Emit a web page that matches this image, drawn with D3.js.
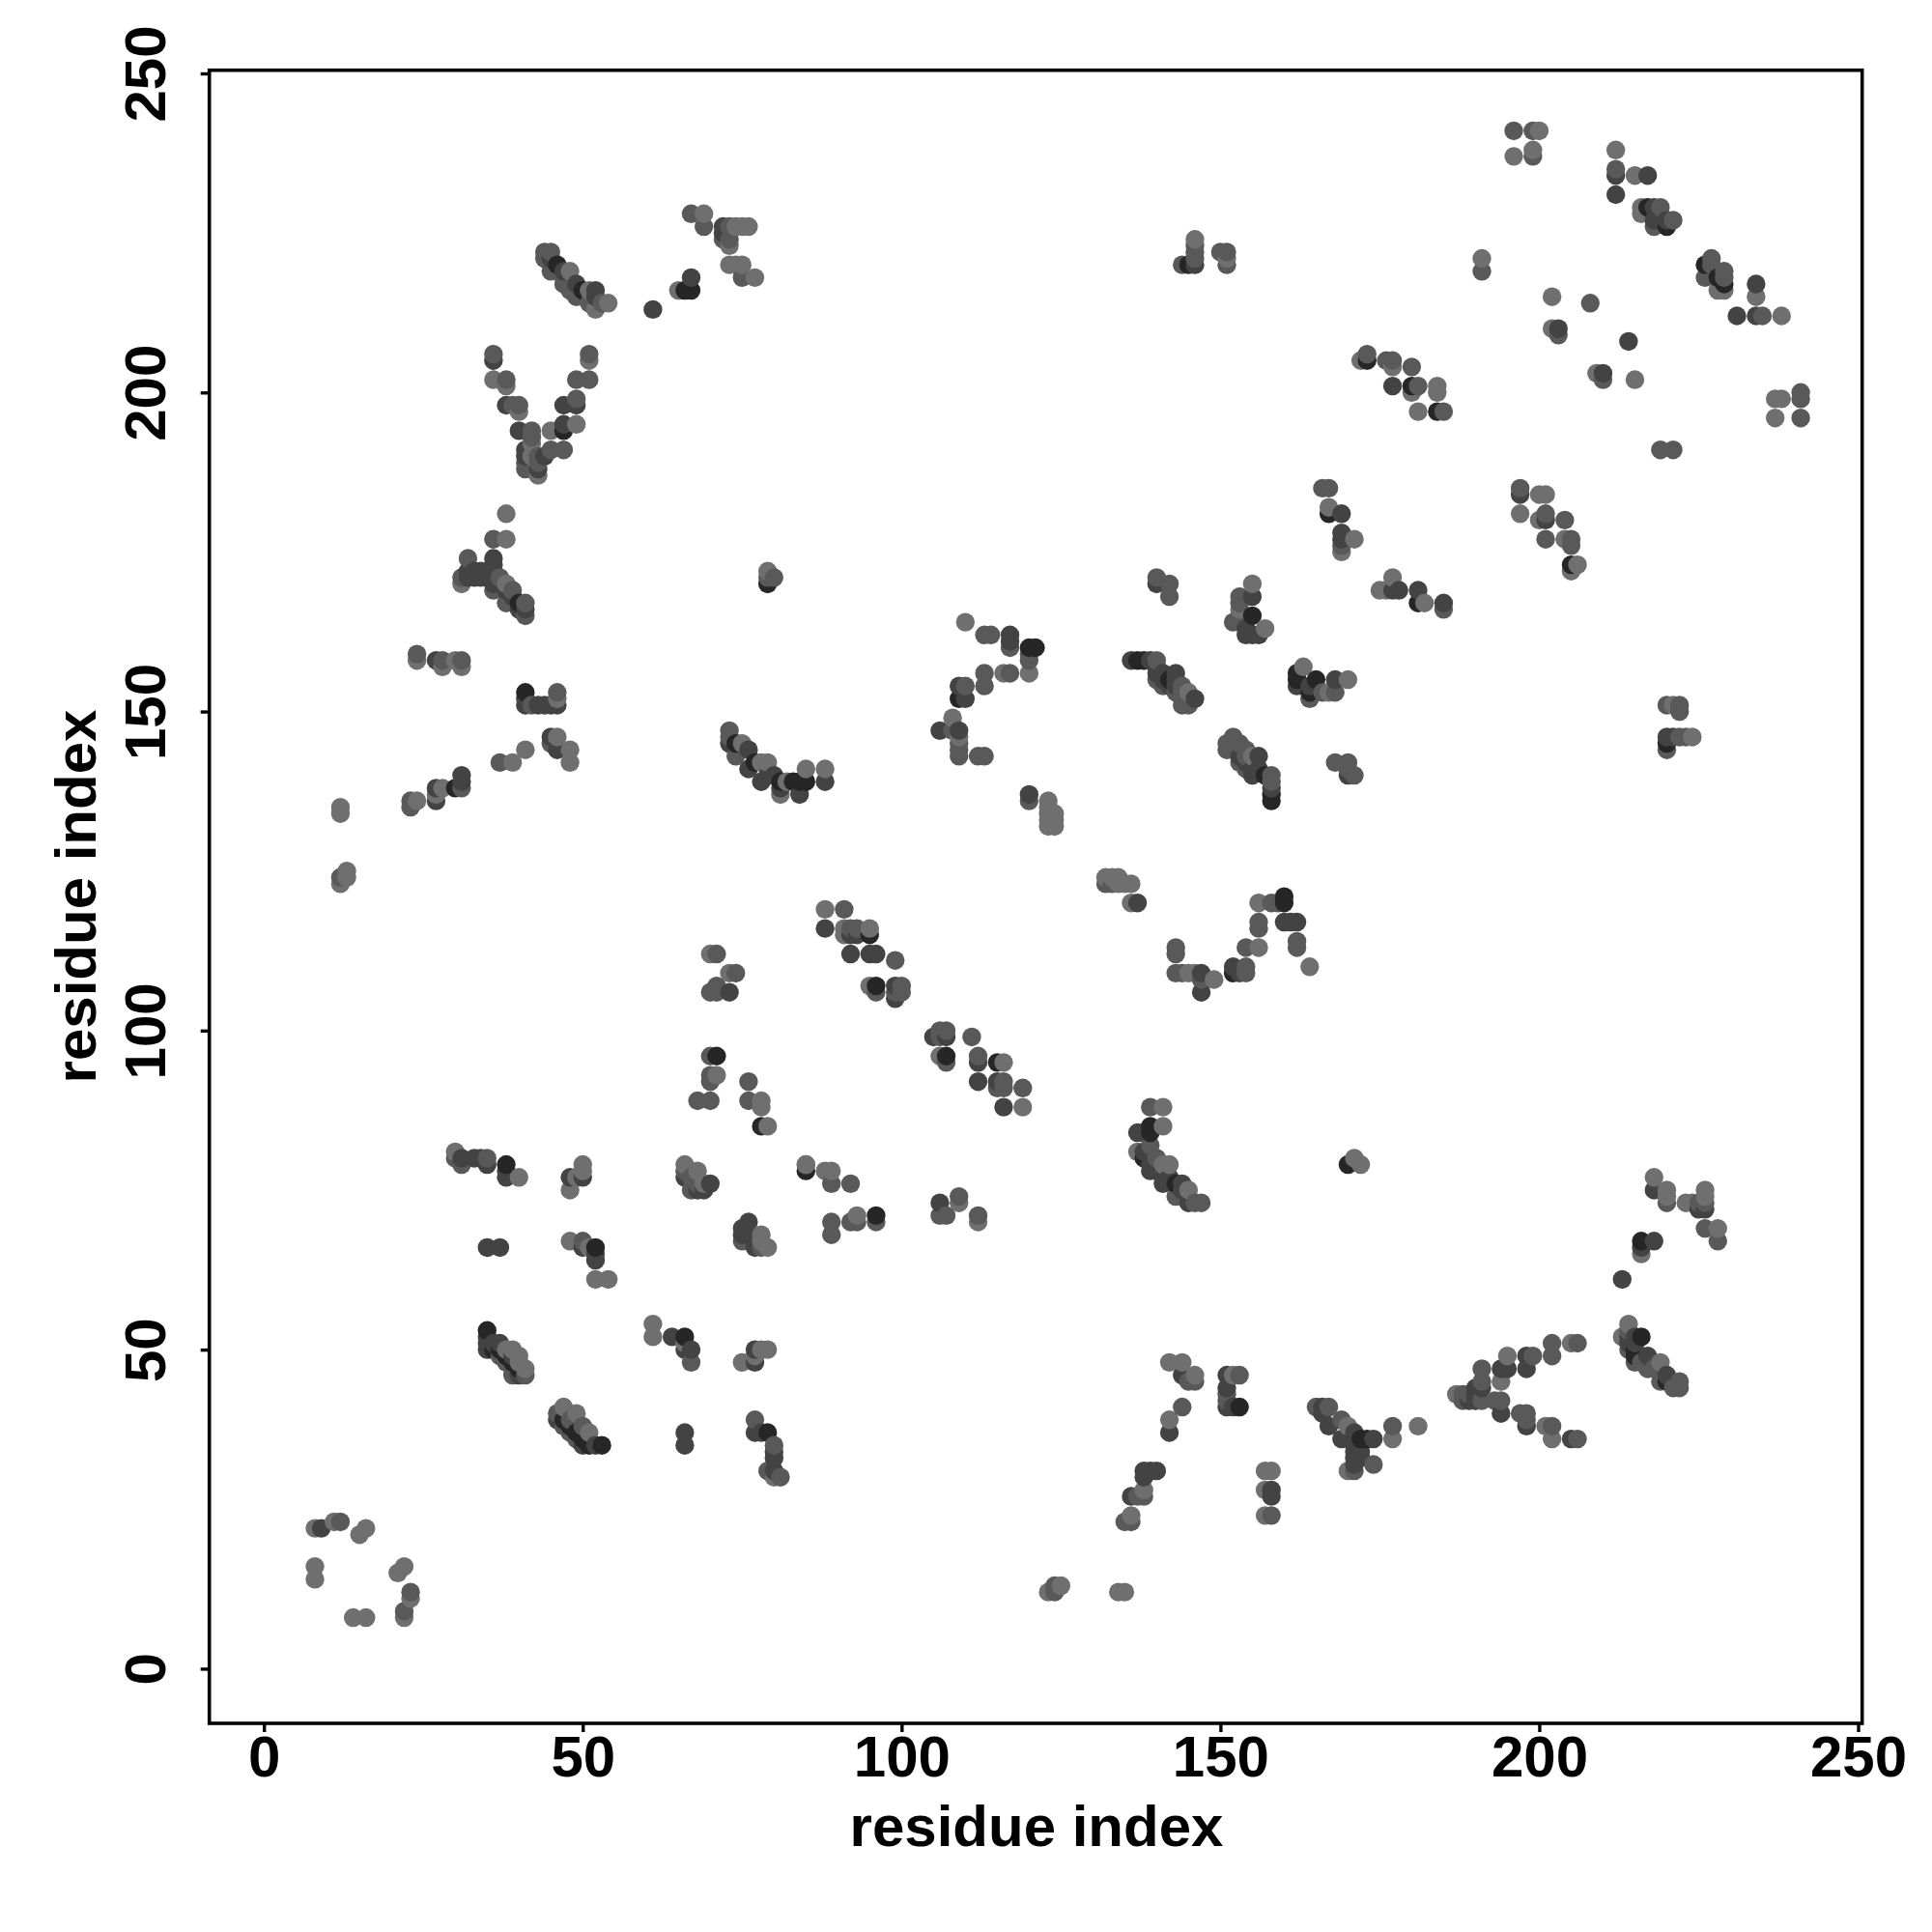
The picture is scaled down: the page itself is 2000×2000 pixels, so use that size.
<!DOCTYPE html>
<html><head><meta charset="utf-8"><script src="https://cdn.jsdelivr.net/npm/d3@7"></script>
<style>html,body{margin:0;background:#fff}svg{display:block}text{font-family:"Liberation Sans",Arial,sans-serif;font-weight:bold;fill:#000}</style>
</head><body><svg id="c" width="2000" height="2000"></svg>
<script>
// Each contact is [residue i, residue j, strength level 1-4]
const tickValues = [0, 50, 100, 150, 200, 250];
const xTitle = "residue index", yTitle = "residue index";
const bottomLeftRing = [[8,22,1],[9,22,3],[11,23,1],[12,23,2],[15,21,1],[16,22,1],[8,16,1],[8,14,1],[21,15,1],[22,16,1],[23,11,1],[23,12,2],[22,9,2],[22,8,1],[14,8,1],[16,8,1]];
const lowerLeftA = [[30,81,1],[30,80,2],[31,80,3],[31,79,2],[33,80,3],[34,80,3],[35,80,2],[35,79,3],[38,79,4],[38,78,3],[38,77,3],[40,77,1],[48,77,3],[48,75,1],[49,77,1],[50,79,1],[50,78,1],[50,77,3],[35,66,3],[37,66,3],[48,67,1],[50,67,2],[50,66,3],[51,66,1],[52,66,4],[52,65,3],[52,64,3],[52,61,1],[54,61,1]];
const lowerLeftHelixA = [[35,53,4],[35,52,3],[35,51,3],[35,50,3],[36,51,3],[36,50,4],[37,51,3],[37,50,4],[37,49,2],[38,50,1],[38,49,4],[38,48,2],[39,50,1],[39,49,3],[39,48,4],[39,47,2],[39,46,2],[40,49,1],[40,48,1],[40,47,4],[40,46,3],[41,47,1],[41,46,2]];
const lowerLeftHelixB = [[47,41,1],[46,40,2],[46,39,3],[47,39,4],[47,38,2],[48,39,2],[48,38,4],[48,37,2],[49,40,1],[49,37,4],[49,36,2],[50,38,2],[50,36,4],[50,35,3],[51,37,1],[51,35,4],[52,35,3],[53,35,4]];
const lowerMidA = [[66,37,3],[66,35,3],[77,39,2],[77,37,3],[78,37,3],[79,37,4],[80,35,2],[80,34,3],[80,33,3],[79,31,2],[80,31,3],[80,30,1],[81,30,2],[61,54,1],[61,52,1],[64,52,3],[66,52,4],[66,51,1],[66,50,3],[67,50,3],[67,48,2],[75,48,1],[77,50,3],[77,49,1],[77,48,3],[78,50,1],[79,50,1]];
const midColumn = [[66,79,1],[66,78,2],[66,77,3],[67,77,2],[67,75,2],[68,78,1],[68,76,2],[68,75,3],[69,76,1],[69,75,3],[70,76,3],[76,70,3],[75,69,3],[75,68,3],[75,67,2],[76,68,3],[77,67,3],[77,66,3],[78,68,1],[78,67,1],[78,66,2],[79,66,1],[85,79,1],[85,78,4],[68,89,2],[70,89,2],[70,92,2],[70,93,2],[71,93,1],[76,92,2],[76,89,2],[78,89,1],[78,88,1],[78,85,4],[79,85,1],[70,96,2],[71,96,4],[70,106,2],[71,107,2],[71,106,2],[73,106,3],[73,109,1],[74,109,2],[70,112,1],[71,112,2]];
const upperLeftA = [[67,228,2],[69,228,1],[69,226,2],[72,226,3],[73,226,2],[74,226,1],[75,226,1],[76,226,1],[72,225,3],[72,224,2],[73,224,2],[73,223,1],[73,220,1],[74,220,1],[75,220,1],[75,218,2],[77,218,1],[67,218,3],[67,216,4],[66,216,4],[65,216,1],[61,213,3]];
const upperLeftHelix = [[44,222,2],[45,222,2],[44,221,2],[45,221,3],[45,219,2],[46,220,4],[47,219,3],[47,218,2],[47,217,2],[48,219,1],[48,216,2],[49,217,3],[49,215,2],[50,216,4],[51,216,1],[51,214,2],[52,216,3],[52,215,3],[52,213,1],[53,214,2],[54,214,1]];
const vShape = [[36,206,2],[36,205,3],[36,202,1],[38,202,2],[38,201,1],[38,198,3],[39,198,2],[40,198,2],[40,197,1],[40,194,3],[42,194,2],[42,193,2],[42,192,1],[41,191,3],[41,190,3],[41,189,2],[41,188,2],[42,190,1],[43,190,2],[43,189,2],[43,188,3],[43,187,1],[44,190,3],[45,191,2],[47,191,2],[45,194,1],[47,195,3],[47,194,4],[49,195,1],[47,198,3],[49,199,2],[49,198,3],[49,202,2],[51,202,2],[51,206,2],[51,205,1]];
const leftHelixC = [[38,181,1],[36,177,2],[38,177,1],[32,174,2],[36,174,3],[36,173,3],[32,172,3],[33,172,3],[34,172,3],[36,172,3],[31,171,2],[31,170,1],[32,171,3],[33,171,3],[34,171,3],[35,171,3],[36,170,3],[37,171,2],[36,169,2],[38,170,1],[38,169,3],[39,169,2],[38,167,2],[39,168,3],[40,167,4],[40,166,3],[41,167,2],[41,166,3],[41,165,2],[79,172,1],[79,171,2],[79,170,4],[80,171,2]];
const leftMid = [[24,159,2],[24,158,1],[27,158,3],[28,158,2],[28,157,1],[30,158,1],[31,158,2],[31,157,1],[12,135,1],[12,134,1],[12,124,2],[12,123,1],[13,125,1],[13,124,1],[23,136,2],[23,135,2],[24,136,1],[27,138,3],[27,137,1],[27,136,3],[28,138,1],[30,138,4],[31,140,3],[31,139,3],[31,138,2],[37,142,2],[39,142,1],[41,144,1],[41,153,4],[41,152,3],[41,151,3],[42,151,2],[43,151,3],[44,151,3],[45,151,3],[46,151,3],[46,153,2],[46,152,1],[45,146,3],[46,146,1],[45,145,2],[46,144,3],[48,144,1],[48,142,1]];
const midHelixD = [[73,147,2],[73,146,2],[73,145,3],[74,145,4],[75,145,1],[74,143,2],[76,144,3],[76,141,3],[77,142,4],[78,142,1],[78,139,3],[79,142,1],[79,140,3],[80,140,3],[81,139,4],[81,138,3],[81,137,1],[82,139,1],[83,139,4],[84,139,4],[84,137,3],[85,141,1],[85,139,4],[88,141,1],[88,139,3]];
const centerDiagonal = [[88,119,1],[91,119,2],[88,116,3],[91,116,1],[92,116,2],[93,116,2],[91,115,1],[92,115,3],[93,115,3],[95,116,1],[95,115,4],[92,112,3],[95,112,3],[96,112,3],[99,111,2],[95,107,1],[96,107,4],[96,106,2],[99,107,3],[99,106,2],[99,105,3],[100,107,2],[100,106,2],[105,99,3],[106,100,2],[106,99,2],[107,100,2],[107,99,3],[111,99,2],[106,96,1],[107,96,4],[107,95,2],[112,96,2],[112,95,3],[115,95,4],[116,95,1],[112,92,3],[115,92,3],[115,91,2],[116,92,2],[116,91,2],[119,91,2],[116,88,3],[119,88,1]];
const lowerCenter = [[85,79,1],[88,78,1],[89,78,1],[89,76,2],[92,76,2],[89,70,2],[89,68,2],[92,70,2],[93,71,1],[93,70,2],[96,71,4],[96,70,2],[106,73,3],[106,71,2],[107,71,2],[109,74,2],[109,73,1],[112,71,2],[112,70,1]];
const centerRight = [[132,124,1],[133,124,1],[134,124,1],[132,123,2],[133,123,2],[134,123,1],[135,123,1],[136,123,1],[136,120,1],[137,120,3],[156,120,1],[158,120,2],[159,120,2],[160,121,4],[160,120,4],[156,117,2],[156,116,2],[160,117,3],[161,117,3],[162,117,3],[162,114,2],[162,113,2],[154,113,2],[156,113,1],[164,110,1],[152,110,3],[152,109,4],[153,109,3],[154,110,2],[154,109,2],[143,113,2],[143,112,2],[143,109,2],[144,109,2],[145,109,1],[146,109,1],[147,109,3],[147,108,2],[147,106,3],[149,108,1]];
const lowerRightHelix = [[139,88,2],[141,88,1],[139,85,4],[141,85,1],[137,84,3],[138,84,3],[139,84,4],[139,82,2],[137,81,1],[138,81,3],[138,80,4],[139,79,3],[139,78,3],[140,80,2],[140,78,3],[141,79,1],[141,76,3],[142,79,1],[142,77,3],[143,76,4],[143,74,2],[144,76,3],[144,75,3],[145,75,1],[145,73,3],[146,73,2],[147,73,2],[170,79,4],[171,80,1],[172,79,1]];
const lowerRightA = [[218,77,1],[218,75,3],[220,75,1],[220,74,1],[220,73,2],[223,73,1],[224,73,1],[225,73,2],[226,75,1],[226,74,1],[226,73,2],[226,72,3],[225,72,3],[226,69,2],[228,69,1],[228,67,2],[216,67,4],[218,67,3],[216,66,3],[216,65,1],[213,61,3]];
const lowerRightHelix2 = [[214,54,1],[214,53,2],[213,52,1],[214,52,3],[215,52,3],[216,52,4],[214,51,3],[215,51,3],[214,50,2],[215,50,4],[215,49,4],[217,49,3],[215,48,2],[216,48,2],[219,48,1],[217,47,2],[218,47,2],[220,46,3],[219,45,2],[220,45,4],[221,44,2],[222,45,2],[222,44,2]];
const arcRight = [[202,51,2],[202,49,2],[205,51,1],[206,51,2],[195,49,1],[198,49,3],[199,49,2],[198,47,3],[194,47,3],[195,47,3],[194,45,1],[191,47,2],[191,45,2],[191,44,3],[190,44,3],[190,43,3],[189,43,2],[188,43,2],[187,43,1],[188,42,2],[189,42,3],[190,42,3],[191,42,2],[193,42,2],[194,42,2],[194,40,3],[197,40,2],[198,40,2],[198,39,2],[198,38,3],[201,38,1],[202,38,2],[202,36,1],[205,36,3],[206,36,2]];
const lowerBlocks = [[142,48,1],[144,48,1],[144,46,3],[145,45,2],[146,46,1],[146,45,2],[144,41,2],[142,39,1],[142,37,3],[151,46,3],[152,46,1],[153,46,2],[151,44,3],[151,43,2],[151,42,2],[151,41,3],[152,41,3],[153,41,4],[165,41,2],[166,41,3],[167,41,2],[166,40,3],[167,38,3],[169,39,2],[170,38,1],[169,36,3],[171,37,3],[172,36,4],[173,36,4],[174,36,3],[171,35,3],[171,34,3],[172,34,3],[171,33,3],[172,33,3],[174,32,2],[171,32,3],[170,31,1],[171,31,2],[177,38,2],[177,36,1],[181,38,1]];
const lowerStems = [[138,31,3],[139,31,3],[140,31,3],[138,30,3],[138,28,1],[136,27,3],[137,27,2],[138,27,2],[136,24,1],[135,23,2],[136,23,2],[157,31,1],[158,31,1],[157,28,1],[158,28,3],[158,27,3],[157,24,1],[158,24,2],[123,12,1],[124,12,2],[124,13,2],[125,13,1],[134,12,1],[135,12,1]];
const middleUpperA = [[110,164,1],[113,162,2],[114,162,2],[117,162,3],[117,161,3],[117,160,2],[120,160,4],[121,160,4],[120,159,2],[120,158,2],[120,156,1],[113,156,2],[113,154,2],[116,156,1],[117,156,2],[109,154,3],[110,154,2],[109,152,4],[110,152,3],[108,149,1],[106,147,3],[108,147,2],[109,147,3],[109,146,1],[109,145,2],[109,144,2],[109,143,2],[112,143,2],[113,143,2],[120,137,3],[120,136,2],[123,136,1],[123,135,1],[123,134,1],[124,134,1],[123,133,1],[124,133,1],[123,132,1],[124,132,1]];
const middleHelixE = [[136,158,3],[137,158,4],[138,158,4],[139,158,3],[140,158,2],[140,157,3],[140,156,3],[140,155,2],[141,156,3],[141,155,3],[141,154,2],[142,155,4],[142,154,3],[143,156,3],[143,155,3],[143,154,3],[143,153,2],[144,154,2],[144,153,2],[144,151,2],[145,153,1],[145,152,2],[145,151,2],[146,152,3]];
const middleCluster = [[140,171,2],[140,170,3],[142,170,2],[142,168,2],[155,170,1],[155,168,3],[153,168,2],[153,167,2],[153,166,1],[153,165,2],[152,164,2],[155,165,4],[157,163,1],[154,163,3],[154,162,3],[155,162,3],[156,162,3]];
const middleHelixF = [[152,146,2],[151,145,2],[152,145,2],[153,145,2],[151,144,2],[152,144,2],[153,143,3],[154,144,2],[154,143,2],[155,143,1],[156,143,3],[153,142,2],[154,142,3],[154,141,2],[155,141,3],[156,141,3],[155,140,3],[157,140,4],[158,140,2],[158,139,2],[158,138,3],[158,137,4],[158,136,4]];
const rightCluster = [[162,156,4],[162,155,4],[162,154,3],[163,157,1],[165,155,4],[164,154,3],[164,153,4],[164,152,2],[166,153,2],[167,153,1],[168,155,3],[168,153,2],[170,155,1],[168,142,2],[170,142,2],[170,141,2],[170,140,3],[171,140,2],[166,185,2],[167,185,2],[167,182,1],[167,181,4],[169,181,3],[169,178,3],[169,177,3],[169,176,2],[169,175,1],[171,177,1],[177,171,1],[175,169,1],[176,169,1],[177,169,3],[178,169,3],[181,169,3],[181,167,4],[182,167,1],[185,167,3],[185,166,2]];
const upperRightA = [[197,185,2],[197,184,3],[200,184,1],[201,184,1],[197,181,1],[200,180,1],[201,181,2],[201,180,3],[204,180,2],[201,177,2],[204,177,1],[205,177,2],[205,176,2],[205,173,4],[206,173,1],[205,172,1],[220,151,2],[221,151,1],[222,151,2],[222,150,2],[220,146,3],[221,146,3],[222,146,2],[223,146,2],[224,146,1],[220,145,4],[220,144,2]];
const upperRightB = [[196,241,2],[199,241,2],[200,241,1],[196,237,1],[199,238,1],[199,237,2],[212,238,1],[212,235,2],[212,234,3],[215,234,1],[217,234,3],[212,231,3],[216,229,1],[217,229,4],[218,229,3],[219,229,2],[216,228,1],[218,227,3],[218,226,2],[220,227,3],[220,226,4],[221,227,2],[226,220,4],[227,221,2],[227,220,2],[226,218,2],[228,218,4],[229,219,2],[229,218,2],[229,217,4],[228,216,1],[229,216,1],[234,217,3],[234,215,1],[231,212,3],[234,212,3],[235,212,2],[238,212,1]];
const upperRightC = [[191,221,1],[191,219,2],[202,215,1],[208,214,2],[202,210,1],[203,210,3],[203,209,2],[214,208,3],[209,203,1],[210,203,3],[210,202,2],[215,202,1],[237,199,1],[238,199,1],[241,200,2],[241,199,2],[237,196,1],[241,196,2],[219,191,2],[221,191,2]];
const upperMiddle = [[144,220,2],[145,220,4],[146,220,3],[146,221,2],[146,222,2],[146,223,2],[146,224,1],[150,222,2],[151,222,2],[151,221,1],[151,220,2],[173,206,2],[172,205,1],[173,205,4],[176,205,2],[177,205,2],[177,204,1],[180,204,2],[177,201,3],[180,201,4],[181,201,2],[180,200,1],[184,201,1],[184,200,1],[181,197,1],[184,197,4],[185,197,2]];

const contacts = [bottomLeftRing, lowerLeftA, lowerLeftHelixA, lowerLeftHelixB, lowerMidA, midColumn, upperLeftA, upperLeftHelix, vShape, leftHelixC, leftMid, midHelixD, centerDiagonal, lowerCenter, centerRight, lowerRightHelix, lowerRightA, lowerRightHelix2, arcRight, lowerBlocks, lowerStems, middleUpperA, middleHelixE, middleCluster, middleHelixF, rightCluster, upperRightA, upperRightB, upperRightC, upperMiddle].flat()
  .sort((a, b) => d3.ascending(a[0], b[0]) || d3.ascending(a[1], b[1]));

const svg = d3.select("#c");
const x = d3.scaleLinear().domain([0, 250]).range([273.2, 1923.5]);
const y = d3.scaleLinear().domain([0, 250]).range([1727.4, 76]);
const grey = d3.scaleOrdinal().domain([1, 2, 3, 4]).range(["#6f6f6f", "#595959", "#434343", "#262626"]);

svg.append("g").selectAll("circle").data(contacts).join("circle")
  .attr("cx", d => x(d[0])).attr("cy", d => y(d[1])).attr("r", 9.7).attr("fill", d => grey(d[2]));

svg.append("rect").attr("x", 216.7).attr("y", 72.7).attr("width", 1711).attr("height", 1711.3)
  .attr("fill", "none").attr("stroke", "#000").attr("stroke-width", 3.6);

const ax = svg.append("g").attr("transform", "translate(0,1784)").call(d3.axisBottom(x).tickValues(tickValues).tickSize(9).tickPadding(3));
const ay = svg.append("g").attr("transform", "translate(216.7,0)").call(d3.axisLeft(y).tickValues(tickValues).tickSize(9));
[ax, ay].forEach(g => {
  g.select(".domain").remove();
  g.selectAll("line").attr("stroke", "#000").attr("stroke-width", 3.4);
  g.selectAll("text").attr("font-size", 60).attr("font-family", '"Liberation Sans"').attr("font-weight", "bold");
});
ay.selectAll("text").attr("text-anchor", "middle").attr("x", 0).attr("y", 0).attr("dy", 0)
  .attr("transform", "translate(-45.7,0) rotate(-90)");
svg.append("text").attr("x", 1073).attr("y", 1911).attr("text-anchor", "middle").attr("font-size", 60).text(xTitle);
svg.append("text").attr("transform", "translate(99,928) rotate(-90)").attr("text-anchor", "middle").attr("font-size", 60).text(yTitle);
</script></body></html>
